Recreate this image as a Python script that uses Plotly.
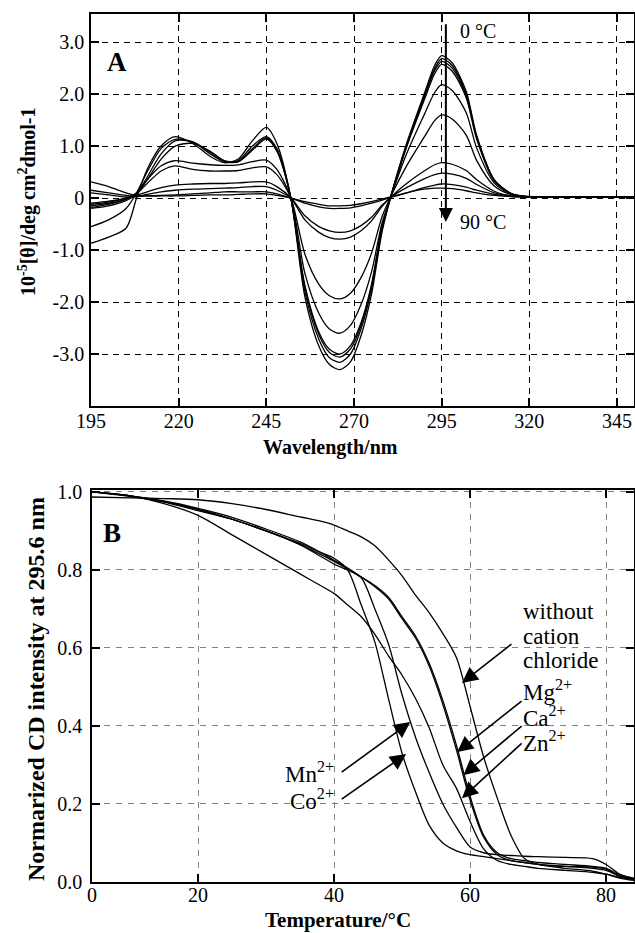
import plotly.graph_objects as go

W_PX, H_PX = 635, 933

# ---------------- Panel A data : CD spectra 0..90 C ----------------
wavelength = [195, 200, 205, 208, 211, 215, 219, 224, 229, 233, 237, 241, 245, 248,
              252, 256, 260, 263, 266, 269, 272, 275, 278, 281, 285, 290, 293, 295,
              298, 302, 305, 310, 315, 320, 330, 350]

cd_0C = [-0.87, -0.75, -0.58, 0.0, 0.55, 1.0, 1.18, 1.05, 0.8, 0.68, 0.75, 1.1, 1.36, 1.05,
         0.0, -1.9, -2.85, -3.2, -3.3, -3.15, -2.65, -1.85, -0.65, 0.15, 1.05, 2.0, 2.55, 2.74,
         2.6, 2.05, 1.2, 0.35, 0.08, 0.03, 0.02, 0.02]
cd_10C = [-0.55, -0.42, -0.2, 0.1, 0.5, 0.95, 1.13, 1.08, 0.85, 0.7, 0.72, 1.0, 1.18, 0.95,
          0.0, -1.8, -2.72, -3.07, -3.16, -3.0, -2.52, -1.75, -0.6, 0.15, 1.02, 1.96, 2.49, 2.68,
          2.55, 2.0, 1.18, 0.35, 0.08, 0.02, 0.02, 0.02]
cd_20C = [-0.2, -0.15, -0.05, 0.08, 0.4, 0.85, 1.1, 1.08, 0.88, 0.7, 0.7, 0.95, 1.16, 0.92,
          0.0, -1.72, -2.63, -2.97, -3.06, -2.9, -2.45, -1.7, -0.57, 0.14, 1.0, 1.93, 2.45, 2.63,
          2.5, 1.97, 1.16, 0.34, 0.08, 0.02, 0.02, 0.02]
cd_30C = [-0.15, -0.1, -0.02, 0.08, 0.35, 0.75, 1.0, 1.05, 0.9, 0.72, 0.7, 0.92, 1.14, 0.9,
          0.0, -1.68, -2.58, -2.91, -3.0, -2.84, -2.4, -1.66, -0.55, 0.14, 0.98, 1.88, 2.39, 2.57,
          2.44, 1.93, 1.13, 0.33, 0.08, 0.02, 0.02, 0.02]
cd_40C = [-0.18, -0.12, -0.02, 0.1, 0.35, 0.62, 0.72, 0.67, 0.64, 0.63, 0.64, 0.7, 0.73, 0.55,
          0.0, -1.45, -2.22, -2.52, -2.6, -2.45, -2.05, -1.42, -0.48, 0.12, 0.85, 1.6, 2.03, 2.18,
          2.07, 1.64, 0.96, 0.29, 0.07, 0.02, 0.02, 0.02]
cd_50C = [-0.12, -0.08, 0.0, 0.08, 0.28, 0.52, 0.62, 0.55, 0.52, 0.52, 0.53, 0.58, 0.6, 0.45,
          0.0, -1.08, -1.66, -1.88, -1.94, -1.83, -1.53, -1.06, -0.36, 0.1, 0.62, 1.17, 1.49, 1.6,
          1.52, 1.21, 0.72, 0.23, 0.06, 0.02, 0.02, 0.02]
cd_60C = [-0.1, -0.06, 0.0, 0.05, 0.12, 0.2, 0.25, 0.27, 0.28, 0.28, 0.29, 0.31, 0.31, 0.22,
          0.0, -0.42, -0.66, -0.76, -0.79, -0.75, -0.63, -0.44, -0.16, 0.05, 0.28, 0.52, 0.64, 0.68,
          0.65, 0.53, 0.35, 0.13, 0.04, 0.02, 0.02, 0.02]
cd_70C = [0.1, 0.06, 0.02, 0.03, 0.07, 0.12, 0.15, 0.17, 0.18, 0.19, 0.2, 0.22, 0.22, 0.15,
          0.0, -0.34, -0.55, -0.63, -0.66, -0.63, -0.53, -0.37, -0.14, 0.04, 0.2, 0.37, 0.45, 0.48,
          0.46, 0.38, 0.26, 0.1, 0.04, 0.02, 0.02, 0.02]
cd_80C = [0.15, 0.1, 0.05, 0.03, 0.04, 0.05, 0.06, 0.08, 0.1, 0.12, 0.12, 0.12, 0.12, 0.08,
          0.0, -0.1, -0.17, -0.2, -0.2, -0.19, -0.15, -0.1, -0.04, 0.02, 0.1, 0.2, 0.25, 0.27,
          0.26, 0.21, 0.15, 0.07, 0.03, 0.02, 0.02, 0.02]
cd_90C = [0.31, 0.22, 0.1, 0.05, 0.04, 0.04, 0.04, 0.05, 0.06, 0.06, 0.07, 0.08, 0.08, 0.05,
          0.0, -0.07, -0.12, -0.15, -0.15, -0.14, -0.11, -0.07, -0.02, 0.03, 0.1, 0.17, 0.19, 0.19,
          0.18, 0.14, 0.1, 0.05, 0.03, 0.02, 0.02, 0.02]
spectra = [cd_0C, cd_10C, cd_20C, cd_30C, cd_40C, cd_50C, cd_60C, cd_70C, cd_80C, cd_90C]
spectra_names = ["0 °C", "10 °C", "20 °C", "30 °C", "40 °C", "50 °C", "60 °C", "70 °C", "80 °C", "90 °C"]

a_xticks = [195, 220, 245, 270, 295, 320, 345]
a_yticks = [3.0, 2.0, 1.0, 0.0, -1.0, -2.0, -3.0]
a_ytext = ["3.0", "2.0", "1.0", "0", "-1.0", "-2.0", "-3.0"]

# ---------------- Panel B data : melting curves ----------------
temperature = [4.41, 10, 15, 20, 25, 30, 35, 38, 40, 42, 44, 46, 48, 50, 52, 54, 56, 58,
               60, 62, 64, 66, 68, 70, 74, 78, 80, 82, 84.1]
melt_none = [0.987, 0.985, 0.983, 0.98, 0.97, 0.955, 0.936, 0.925, 0.915, 0.9, 0.885, 0.862,
             0.826, 0.785, 0.735, 0.69, 0.637, 0.575, 0.45, 0.32, 0.215, 0.12, 0.06, 0.045,
             0.04, 0.035, 0.03, 0.015, 0.008]
melt_mg = [1.0, 0.99, 0.977, 0.958, 0.935, 0.905, 0.872, 0.845, 0.825, 0.805, 0.782, 0.757,
           0.726, 0.675, 0.625, 0.553, 0.455, 0.338, 0.21, 0.115, 0.07, 0.055, 0.05, 0.045,
           0.04, 0.038, 0.033, 0.015, 0.008]
melt_ca = [1.0, 0.988, 0.974, 0.952, 0.93, 0.9, 0.865, 0.84, 0.822, 0.803, 0.782, 0.76,
           0.73, 0.68, 0.63, 0.56, 0.465, 0.35, 0.22, 0.12, 0.075, 0.06, 0.055, 0.05,
           0.045, 0.04, 0.035, 0.018, 0.01]
melt_zn = [1.0, 0.99, 0.97, 0.94, 0.89, 0.84, 0.79, 0.76, 0.74, 0.71, 0.68, 0.635,
           0.58, 0.53, 0.47, 0.395, 0.3, 0.24, 0.155, 0.085, 0.055, 0.045, 0.04, 0.035,
           0.03, 0.025, 0.02, 0.012, 0.006]
melt_mn = [1.0, 0.99, 0.975, 0.955, 0.93, 0.9, 0.865, 0.835, 0.815, 0.8, 0.78, 0.7,
           0.61, 0.48, 0.37, 0.28, 0.2, 0.14, 0.09, 0.075, 0.07, 0.068, 0.066, 0.065,
           0.063, 0.06, 0.045, 0.02, 0.008]
melt_co = [1.0, 0.99, 0.975, 0.955, 0.93, 0.9, 0.868, 0.845, 0.83, 0.8, 0.71, 0.615,
           0.47, 0.33, 0.23, 0.145, 0.1, 0.08, 0.07, 0.065, 0.06, 0.055, 0.05, 0.045,
           0.035, 0.028, 0.02, 0.01, 0.004]
melts = [melt_none, melt_mg, melt_ca, melt_zn, melt_mn, melt_co]
melt_names = ["without cation chloride", "Mg2+", "Ca2+", "Zn2+", "Mn2+", "Co2+"]

b_xticks = [4.41, 20, 40, 60, 80]
b_xtext = ["0", "20", "40", "60", "80"]
b_yticks = [0.0, 0.2, 0.4, 0.6, 0.8, 1.0]
b_ytext = ["0.0", "0.2", "0.4", "0.6", "0.8", "1.0"]

# ---------------- Figure ----------------
SERIF = "Liberation Serif"
fig = go.Figure()
for vals, name in zip(spectra, spectra_names):
    fig.add_trace(go.Scatter(x=wavelength, y=vals, mode="lines", name=name,
                             line=dict(color="black", width=1.3, shape="spline", smoothing=0.8),
                             xaxis="x", yaxis="y", showlegend=False))
for vals, name in zip(melts, melt_names):
    fig.add_trace(go.Scatter(x=temperature, y=vals, mode="lines", name=name,
                             line=dict(color="black", width=1.3, shape="spline", smoothing=0.8),
                             xaxis="x2", yaxis="y2", showlegend=False))


def px(x):
    return x / W_PX


def py(y):
    return 1 - y / H_PX


tickfont = dict(family=SERIF, size=20, color="black")
common = dict(showline=True, linecolor="black", linewidth=1.6, mirror="ticks",
              ticks="inside", ticklen=8, tickwidth=1.5, tickcolor="black",
              zeroline=False, tickfont=tickfont, showgrid=True, gridwidth=1)

fig.update_layout(
    width=W_PX, height=H_PX,
    margin=dict(l=0, r=0, t=0, b=0, autoexpand=False),
    paper_bgcolor="white", plot_bgcolor="white",
    xaxis=dict(domain=[px(91), px(634)], anchor="y", range=[195, 349.85],
               tickmode="array", tickvals=a_xticks, ticktext=[str(v) for v in a_xticks],
               gridcolor="black", griddash="6px,5px", ticklabelstandoff=-4, **common),
    yaxis=dict(domain=[py(406), py(14)], anchor="x", range=[-4.0, 3.54],
               tickmode="array", tickvals=a_yticks, ticktext=a_ytext,
               gridcolor="black", griddash="6px,5px", ticklabelstandoff=1, **common),
    xaxis2=dict(domain=[px(92), px(634)], anchor="y2", range=[4.41, 84.1],
                tickmode="array", tickvals=b_xticks, ticktext=b_xtext,
                gridcolor="#808080", griddash="6px,6px", ticklabelstandoff=-6, **common),
    yaxis2=dict(domain=[py(882), py(490)], anchor="x2", range=[0, 1.005],
                tickmode="array", tickvals=b_yticks, ticktext=b_ytext,
                gridcolor="#808080", griddash="6px,6px", ticklabelstandoff=4, **common),
)


def label(text, x, y, size, xanchor="center", yanchor="middle", angle=0, align="center"):
    return dict(text=text, x=px(x), y=py(y), xref="paper", yref="paper",
                xanchor=xanchor, yanchor=yanchor, textangle=angle, align=align,
                showarrow=False, font=dict(family=SERIF, size=size, color="black"))


ann = []
# axis titles
ann.append(label("<b>Wavelength/nm</b>", 330, 447, 20))
ann.append(label("<b>10<sup>-5</sup>[θ]/deg cm<sup>2</sup>dmol-1</b>", 27, 202, 20, angle=-90))
ann.append(label("<b>Temperature/°C</b>", 338, 920, 21))
ann.append(label("<b>Normarized CD intensity at 295.6 nm</b>", 36, 689, 24, angle=-90))
# panel letters
ann.append(label("<b>A</b>", 117, 62, 27))
ann.append(label("<b>B</b>", 112, 533, 27))
# temperature arrow in A
ann.append(dict(x=296.2, y=-0.46, ax=296.2, ay=3.37, xref="x", yref="y", axref="x", ayref="y",
                showarrow=True, arrowhead=2, arrowsize=1.4, arrowwidth=2, arrowcolor="black", text=""))
ann.append(label("0 °C", 458, 31, 20, xanchor="left"))
ann.append(label("90 °C", 458, 222, 20, xanchor="left"))

# panel B labels
for txt, yy in [("without", 611), ("cation", 636), ("chloride", 660)]:
    ann.append(label(txt, 521, yy, 23, xanchor="left"))
for txt, yy in [("Mg<sup>2+</sup>", 690), ("Ca<sup>2+</sup>", 716), ("Zn<sup>2+</sup>", 741)]:
    ann.append(label(txt, 521, yy, 23, xanchor="left"))
for txt, yy in [("Mn<sup>2+</sup>", 772), ("Co<sup>2+</sup>", 799)]:
    ann.append(label(txt, 336, yy, 23, xanchor="right"))

# arrows in B (tail -> tip, data coordinates)
b_arrows = [((66.3, 0.613), (58.8, 0.51)),
            ((67.8, 0.467), (58.1, 0.333)),
            ((67.8, 0.403), (59.0, 0.274)),
            ((67.8, 0.359), (58.8, 0.215)),
            ((40.9, 0.279), (51.2, 0.41)),
            ((40.9, 0.21), (50.6, 0.328))]
for (tx, ty), (hx, hy) in b_arrows:
    ann.append(dict(x=hx, y=hy, ax=tx, ay=ty, xref="x2", yref="y2", axref="x2", ayref="y2",
                    showarrow=True, arrowhead=2, arrowsize=2.0, arrowwidth=1.6,
                    arrowcolor="black", text=""))

fig.update_layout(annotations=ann)
fig.write_html("out.html", config={"displayModeBar": False},
               post_script="document.body.style.margin='0';document.body.style.overflow='hidden';")
